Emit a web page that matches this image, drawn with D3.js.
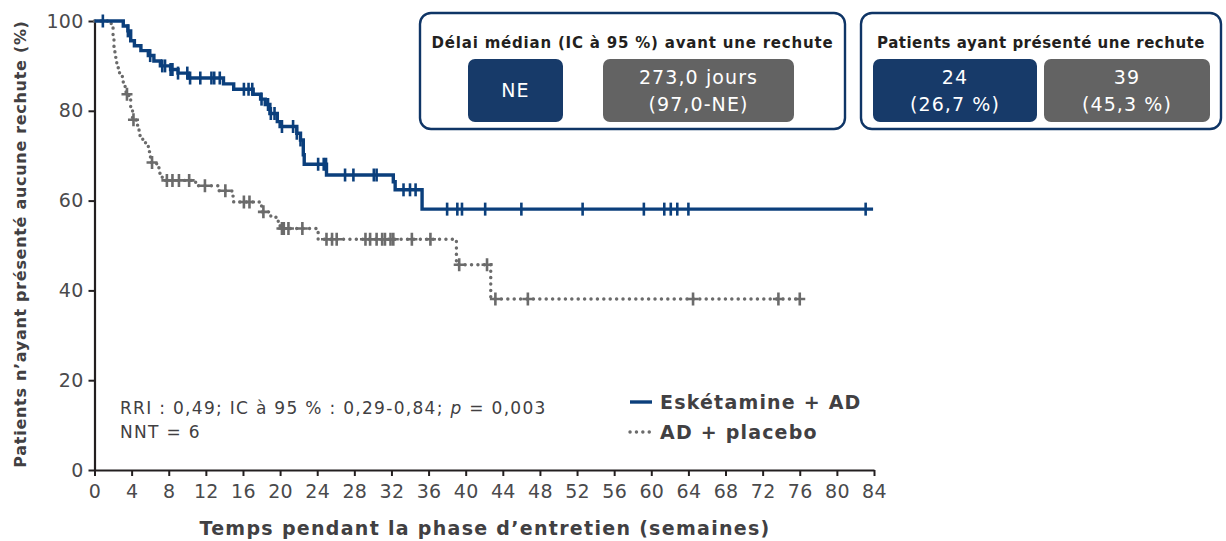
<!DOCTYPE html>
<html>
<head>
<meta charset="utf-8">
<script src="https://cdn.jsdelivr.net/npm/d3@7"></script>
<style>
  body { margin: 0; background: #fff; }
  svg { font-family: "DejaVu Sans", Verdana, sans-serif; }
</style>
</head>
<body>
<svg id="svg1" width="1226" height="541"></svg>
<script>
// Kaplan-Meier steps: [week, % without relapse after the step]
var esketamineSteps = [
  [3.1, 98.9], [3.6, 97.8], [3.9, 95.6], [4.3, 94.5], [5.0, 93.4], [5.8, 92.3],
  [6.4, 91.1], [7.1, 90.0], [8.2, 89.2], [9.0, 88.4], [10.1, 87.3], [13.9, 86.0],
  [15.0, 84.8], [17.1, 83.7], [17.9, 82.6], [18.4, 81.4], [18.9, 79.4], [19.7, 77.6],
  [20.0, 76.5], [21.8, 75.0], [22.2, 73.5], [22.5, 70.2], [22.6, 68.1], [25.0, 65.7],
  [32.2, 64.2], [32.4, 62.4], [35.3, 58.1]
];
var esketamineCensored = [0.9, 3.6, 6.0, 7.3, 7.6, 8.2, 8.4, 9.0, 10.0, 10.3, 11.4, 12.6, 12.9,
  13.5, 16.1, 16.6, 17.0, 18.0, 18.7, 19.0, 19.4, 20.2, 21.4, 21.8, 22.2, 24.1, 24.7, 24.95,
  27.0, 27.9, 30.1, 30.4, 33.3, 34.0, 34.6, 38.0, 39.1, 39.6, 42.1, 46.0, 52.6, 59.2, 61.4,
  62.1, 62.8, 64.0, 83.1];
var esketamineEnd = 83.9;

var placeboSteps = [
  [1.8, 98.8], [2.0, 96.5], [2.1, 94.2], [2.2, 91.9], [2.4, 89.6], [2.7, 88.4], [3.0, 87.2],
  [3.1, 86.0], [3.3, 84.9], [3.4, 83.7], [3.7, 82.5], [3.9, 80.2], [4.1, 78.0], [4.5, 76.8],
  [4.8, 74.5], [5.2, 73.3], [5.5, 72.1], [5.8, 70.9], [6.0, 69.7], [6.1, 68.5], [6.7, 67.3],
  [7.0, 66.1], [7.3, 64.5], [10.9, 63.3], [13.3, 62.2], [14.8, 61.0], [15.0, 59.7],
  [18.0, 57.5], [19.0, 56.3], [19.8, 55.1], [20.0, 53.8], [24.1, 51.4], [39.0, 45.7],
  [42.7, 38.1]
];
var placeboCensored = [3.5, 4.2, 6.2, 7.8, 8.4, 9.1, 10.2, 11.9, 14.1, 16.1, 16.7, 18.2, 20.2,
  20.4, 20.9, 22.4, 25.0, 25.6, 26.1, 29.2, 29.7, 30.4, 31.0, 31.3, 31.9, 32.2, 34.2, 36.2,
  39.3, 42.3, 43.2, 46.7, 64.5, 73.7, 76.0];
var placeboEnd = 76.0;

var xTicks = d3.range(0, 85, 4);
var yTicks = [0, 20, 40, 60, 80, 100];

var seriesNames = ["Eskétamine + AD", "AD + placebo"];
var seriesColors = ["#0b3f7c", "#6b6b6b"];
var boxColors = ["#173a69", "#636363"];

var medianTitle = "Délai médian (IC à 95 %) avant une rechute";
var medianValues = [["NE"], ["273,0 jours", "(97,0-NE)"]];
var relapseTitle = "Patients ayant présenté une rechute";
var relapseValues = [["24", "(26,7 %)"], ["39", "(45,3 %)"]];

var svg = d3.select('#svg1');
var x = d3.scaleLinear().domain([0, 84]).range([94.5, 874]);
var y = d3.scaleLinear().domain([0, 100]).range([470, 21]);

// axes
var xAxis = svg.append('g')
    .attr('transform', 'translate(0,470)')
    .call(d3.axisBottom(x).tickValues(xTicks).tickSize(6).tickSizeOuter(0));
var yAxis = svg.append('g')
    .attr('transform', 'translate(94.5,0)')
    .call(d3.axisLeft(y).tickValues(yTicks).tickSize(6).tickSizeOuter(0));

[xAxis, yAxis].forEach(function(a) {
  a.select('.domain').attr('stroke', '#231f20').attr('stroke-width', 2.2);
  a.selectAll('.tick line').attr('stroke', '#231f20').attr('stroke-width', 2);
  a.selectAll('.tick text').attr('fill', '#4a4a4c')
      .style('font-size', '19px').style('letter-spacing', '0.3px')
      .style('font-family', '"DejaVu Sans", Verdana, sans-serif');
});
xAxis.selectAll('.tick text').attr('dy', '1.0em');
yAxis.selectAll('.tick text').attr('dx', '-0.1em');

// build step paths
function stepPoints(steps, end) {
  var pts = [[0, 100]];
  steps.forEach(function(d) { pts.push([d[0], d[1]]); });
  pts.push([end, steps[steps.length - 1][1]]);
  return pts;
}
function survivalAt(steps, t) {
  var s = 100;
  steps.forEach(function(d) { if (d[0] <= t) s = d[1]; });
  return s;
}

var line = d3.line()
    .x(function(d) { return x(d[0]); })
    .y(function(d) { return y(d[1]); })
    .curve(d3.curveStepAfter);

// placebo (dotted)
svg.append('path')
    .datum(stepPoints(placeboSteps, placeboEnd))
    .attr('d', line)
    .attr('fill', 'none')
    .attr('stroke', seriesColors[1])
    .attr('stroke-width', 3.4)
    .attr('stroke-linecap', 'round')
    .attr('stroke-dasharray', '0.1 6.3');

svg.append('g').selectAll('path')
    .data(placeboCensored)
    .enter().append('path')
    .attr('d', function(d) {
      var cx = x(d), cy = y(survivalAt(placeboSteps, d));
      return 'M' + cx + ',' + (cy - 6.5) + 'V' + (cy + 6.5) + 'M' + (cx - 5.5) + ',' + cy + 'H' + (cx + 5.5);
    })
    .attr('stroke', seriesColors[1])
    .attr('stroke-width', 2.6)
    .attr('fill', 'none');

// esketamine (solid)
svg.append('path')
    .datum(stepPoints(esketamineSteps, esketamineEnd))
    .attr('d', line)
    .attr('fill', 'none')
    .attr('stroke', seriesColors[0])
    .attr('stroke-width', 3.4);

svg.append('g').selectAll('line')
    .data(esketamineCensored)
    .enter().append('line')
    .attr('x1', function(d) { return x(d); })
    .attr('x2', function(d) { return x(d); })
    .attr('y1', function(d) { return y(survivalAt(esketamineSteps, d)) - 6.5; })
    .attr('y2', function(d) { return y(survivalAt(esketamineSteps, d)) + 6.5; })
    .attr('stroke', seriesColors[0])
    .attr('stroke-width', 2.6);

// axis titles
svg.append('text')
    .attr('transform', 'translate(26,244) rotate(-90)')
    .attr('text-anchor', 'middle')
    .attr('fill', '#414042')
    .style('font-size', '16px').style('font-weight', 'bold').style('letter-spacing', '0.7px')
    .text('Patients n’ayant présenté aucune rechute (%)');

svg.append('text')
    .attr('x', 485).attr('y', 535)
    .attr('text-anchor', 'middle')
    .attr('fill', '#414042')
    .style('font-size', '19px').style('font-weight', 'bold').style('letter-spacing', '1.3px')
    .text('Temps pendant la phase d’entretien (semaines)');

// stats annotation
var note = svg.append('text').attr('x', 120).attr('y', 414)
    .attr('fill', '#414042').style('font-size', '17px').style('letter-spacing', '1.3px');
note.append('tspan').text('RRI : 0,49; IC à 95 % : 0,29-0,84; ');
note.append('tspan').style('font-style', 'italic').text('p');
note.append('tspan').text(' = 0,003');
svg.append('text').attr('x', 120).attr('y', 438)
    .attr('fill', '#414042').style('font-size', '17px').style('letter-spacing', '1.3px')
    .text('NNT = 6');

// legend
var legend = svg.append('g');
seriesNames.forEach(function(name, i) {
  var ly = 402 + i * 30;
  legend.append('line')
      .attr('x1', 630).attr('x2', 652).attr('y1', ly).attr('y2', ly)
      .attr('stroke', seriesColors[i]).attr('stroke-width', 3.4)
      .attr('stroke-linecap', i === 1 ? 'round' : 'butt')
      .attr('stroke-dasharray', i === 1 ? '0.1 6.3' : null);
  legend.append('text')
      .attr('x', 660).attr('y', ly + 7)
      .attr('fill', '#414042')
      .style('font-size', '19px').style('font-weight', 'bold').style('letter-spacing', '1.2px')
      .text(name);
});

// info boxes
function infoBox(bx, bw, title, values, cells, spacing) {
  var g = svg.append('g');
  g.append('rect').attr('x', bx).attr('y', 13).attr('width', bw).attr('height', 116)
      .attr('rx', 11).attr('fill', '#fff').attr('stroke', '#0f3566').attr('stroke-width', 2.4);
  g.append('text').attr('x', bx + bw / 2).attr('y', 48).attr('text-anchor', 'middle')
      .attr('fill', '#231f20').style('font-size', '15px').style('font-weight', 'bold')
      .style('letter-spacing', spacing + 'px')
      .text(title);
  values.forEach(function(v, i) {
    var c = cells[i];
    g.append('rect').attr('x', c[0]).attr('y', 59).attr('width', c[1]).attr('height', 63)
        .attr('rx', 7).attr('fill', boxColors[i]);
    v.forEach(function(t, j) {
      var ty = v.length === 1 ? 97 : 84 + j * 27;
      g.append('text').attr('x', c[0] + c[1] / 2).attr('y', ty).attr('text-anchor', 'middle')
          .attr('fill', '#fff').style('font-size', '19px').style('letter-spacing', '1.1px')
          .text(t);
    });
  });
}
infoBox(420, 425, medianTitle, medianValues, [[468, 95], [603, 191]], 0.8);
infoBox(861, 360, relapseTitle, relapseValues, [[873, 164], [1044, 166]], 0.5);
</script>
</body>
</html>
